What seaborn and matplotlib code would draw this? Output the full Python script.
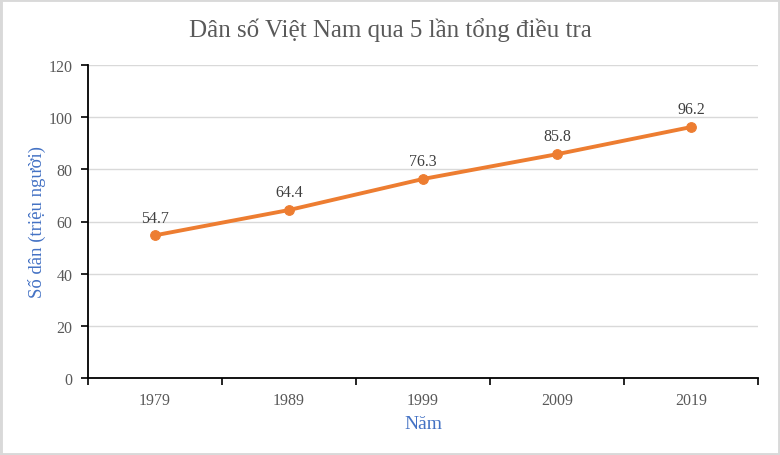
import matplotlib
matplotlib.use("Agg")
import matplotlib.pyplot as plt
from matplotlib.patches import Rectangle
from matplotlib.ticker import FixedLocator
import seaborn as sns
import pandas as pd

years = ["1979", "1989", "1999", "2009", "2019"]
population = [54.7, 64.4, 76.3, 85.8, 96.2]
title = "Dân số Việt Nam qua 5 lần tổng điều tra"
xlabel = "Năm"
ylabel = "Số dân (triệu người)"
yticks = [0, 20, 40, 60, 80, 100, 120]

sns.set_theme(style="white")
plt.rcParams["font.family"] = ["Liberation Serif", "DejaVu Serif"]

df = pd.DataFrame({"year": years, "pop": population})
df["pos"] = range(len(years))

fig = plt.figure(figsize=(7.8, 4.56), dpi=100)
ax = fig.add_axes([88 / 780, 1 - 379 / 456, (758 - 88) / 780, (379 - 66) / 456])

sns.lineplot(data=df, x="pos", y="pop", ax=ax, color="#ed7d31", linewidth=2.8,
             marker="o", markersize=7, markeredgecolor="#ed7d31", zorder=3)

for p, v in zip(df["pos"], population):
    ax.annotate(f"{v}", (p, v), xytext=(0, 7), textcoords="offset points",
                ha="center", va="bottom", fontsize=11.5, color="#404040")

ax.set_xlim(-0.5, len(years) - 0.5)
ax.set_ylim(0, 120)
ax.set_yticks(yticks)
ax.set_xticks(list(df["pos"]))
ax.set_xticklabels(years)
ax.xaxis.set_minor_locator(FixedLocator([i - 0.5 for i in range(len(years) + 1)]))
ax.tick_params(axis="x", which="major", length=0, pad=10, labelsize=11.5, labelcolor="#595959")
ax.tick_params(axis="x", which="minor", length=5, width=1.2, color="black", direction="out", bottom=True)
ax.tick_params(axis="y", which="major", length=5, width=1.2, color="black", direction="out",
               left=True, pad=6, labelsize=11.5, labelcolor="#595959")

ax.grid(axis="y", color="#d9d9d9", linewidth=1)
ax.set_axisbelow(True)
for s in ["top", "right"]:
    ax.spines[s].set_visible(False)
for s in ["left", "bottom"]:
    ax.spines[s].set_color("black")
    ax.spines[s].set_linewidth(1.3)

ax.set_xlabel(xlabel, fontsize=14, color="#4472c4", labelpad=5)
ax.set_ylabel(ylabel, fontsize=13.5, color="#4472c4", labelpad=2)

fig.text(0.5, 1 - 30 / 456, title, ha="center", va="center", fontsize=18, color="#595959")

fig.patches.append(Rectangle((0, 0), 1, 1, transform=fig.transFigure, fill=False,
                             edgecolor="#d9d9d9", linewidth=3.5))

fig.savefig("out.png", dpi=100)
